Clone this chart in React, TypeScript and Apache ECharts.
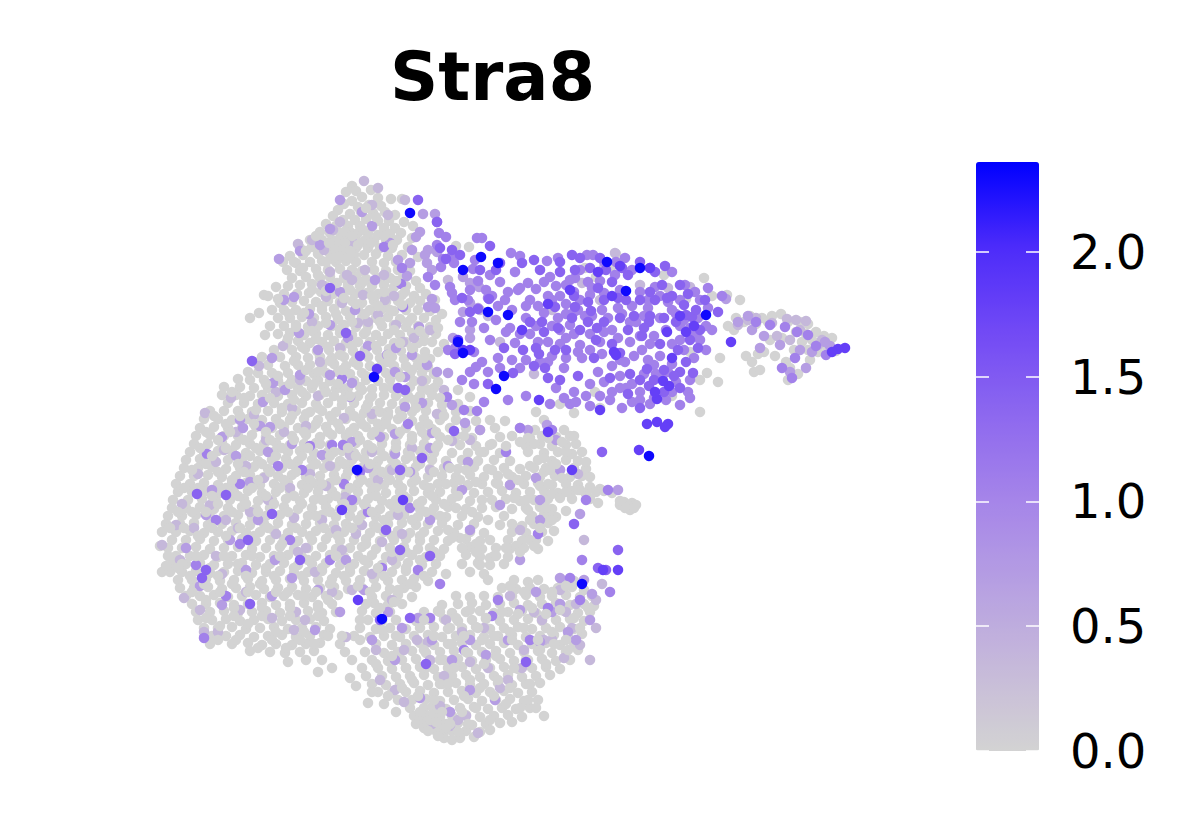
import React, { useEffect, useRef } from "react";
import * as echarts from "echarts";

const geneName = "Stra8";
const colorTicks = [0, 0.5, 1, 1.5, 2];
const colorMax = 2.36;
const colorStops = ["#d3d3d3", "#c6b9da", "#b69fe2", "#a584e9", "#8d68ef", "#7149f5", "#4c2bfa", "#0000ff"];
const expressionLevels = [0, 0.35, 0.7, 1.05, 1.4, 1.8, 2.3];

// Cell positions, flat x,y pairs, one list per expression level
const zeroCellsTop = [
352,186,346,192,356,191,371,190,378,198,352,201,362,197,344,204,358,207,369,205,381,206,391,199,402,199,338,210,350,214,361,212,373,213,385,212,395,215,333,216,343,220,355,220,366,219,378,221,389,221,404,222,326,224,336,226,348,226,360,226,372,227,384,228,395,228,413,226,320,232,330,233,340,233,350,232,358,233,368,234,378,235,390,234,401,233,310,240,322,240,332,240,340,239,348,240,355,240,364,241,374,241,386,240,397,240,412,238,300,248,312,247,326,247,335,246,342,246,349,247,356,248,368,248,380,248,392,248,408,247,456,246,469,247,290,256,303,255,318,254,330,254,338,253,346,253,354,255,364,255,376,254,388,256,402,255,418,257,283,262,296,263,310,262,322,261,336,262,346,261,356,262,372,262,384,263,396,262,
287,270,300,271,316,269,328,270,340,269,352,270,362,271,374,270,386,271,398,270,410,271,292,278,306,277,320,278,330,277,344,278,356,277,366,279,378,278,390,278,402,279,416,281,264,295,276,287,288,286,300,285,312,284,325,286,335,285,348,285,360,286,372,286,384,285,394,287,406,286,420,288,268,296,284,294,297,294,309,293,321,292,333,294,343,292,355,294,367,293,378,294,390,293,402,295,414,296,426,294,259,313,280,303,292,302,304,301,316,302,328,301,340,302,352,301,362,303,374,301,386,302,398,301,410,303,420,301,435,300];
const zeroCellsUpperMid = [
250,318,272,310,284,310,296,310,310,309,322,310,334,309,346,311,358,309,370,310,382,309,394,311,406,310,418,310,430,311,442,314,278,318,290,318,302,317,314,318,326,317,338,319,350,317,362,318,376,318,388,317,400,319,412,318,424,318,436,320,270,326,284,326,296,325,308,327,318,326,332,326,344,325,356,327,368,326,382,326,394,325,406,327,418,326,430,327,265,335,278,334,290,333,304,335,316,334,328,335,340,333,352,335,364,334,376,335,388,334,400,335,412,333,424,335,436,334,287,342,298,341,310,343,322,342,334,341,346,343,358,342,370,342,382,341,394,343,406,342,418,343,432,342,444,344,274,350,292,350,305,349,317,351,329,350,341,349,353,351,365,350,377,350,389,349,401,351,413,350,425,352,254,362,262,357,280,357,296,357,308,358,320,357,332,358,344,357,356,359,368,357,380,358,392,357,404,359,416,358,430,359,
268,365,285,366,298,365,310,365,322,366,334,364,346,366,358,365,370,366,382,365,394,366,406,366,418,365,428,367,258,373,272,373,288,373,302,372,314,374,326,373,338,372,350,374,362,373,386,373,398,372,410,374,422,373,434,374,238,379,250,380,264,380,278,381,292,380,306,381,318,380,330,381,342,388,354,381,366,380,378,381,390,380,414,381,426,380,438,382,224,387,240,387,254,388,268,388,284,387,298,388,312,388,324,387,336,389,348,388,360,387,372,389,384,388,410,387,422,389,434,388,458,390,222,395,236,395,250,396,262,395,278,396,292,395,306,396,320,395,334,396,346,395,358,396,372,396,384,395,396,396,408,396,420,396,432,395,444,396,470,397,
228,403,244,403,258,404,274,403,288,404,302,403,316,404,328,403,342,405,354,403,368,404,380,403,392,404,404,403,416,404,428,403,442,405,458,404,210,411,224,411,238,411,252,412,268,411,282,412,296,411,310,412,322,411,336,412,350,411,364,413,376,411,388,412,400,411,412,412,426,411,442,412,456,412,470,411,204,419,218,419,232,420,248,419,262,420,276,419,290,420,304,419,318,420,332,420,346,419,360,420,372,419,386,420,398,419,412,421,424,419,440,420,456,420,476,421,490,420,505,421,200,428,214,427,228,428,242,428,256,427,272,428,284,427,298,428,312,428,326,427,340,429,354,428,366,427,380,428,392,429,406,428,420,427,432,429,450,428,466,428,480,430,495,428,520,428,535,430,548,428,564,430];
const zeroCellsCentre = [
196,436,210,435,224,436,238,436,252,435,266,437,280,435,292,436,306,435,320,437,332,435,346,436,358,436,372,435,384,437,398,435,412,436,426,436,440,437,456,436,472,438,500,437,512,436,530,438,542,436,556,437,570,436,194,444,208,444,222,443,236,445,250,444,264,444,276,443,290,445,304,444,316,443,330,445,344,444,356,443,368,445,382,444,396,443,410,445,424,444,438,445,460,445,476,446,490,445,526,446,540,444,552,446,566,445,576,444,190,452,204,452,218,451,232,452,246,453,260,451,274,452,288,452,300,451,314,453,328,452,342,451,354,453,366,452,380,451,394,453,408,452,420,451,434,453,452,453,468,453,484,452,500,453,528,452,544,453,558,452,572,454,582,452,186,460,200,459,214,460,228,460,242,459,258,461,272,460,286,459,298,461,312,460,326,459,340,461,352,460,364,459,378,461,392,460,406,459,418,461,432,460,446,461,462,460,478,461,494,460,510,461,538,460,552,461,566,460,578,461,
184,468,198,468,212,467,226,469,240,468,254,467,268,469,282,468,296,467,310,469,324,468,336,467,350,469,362,468,376,467,390,469,402,468,416,467,430,469,444,468,458,469,474,467,488,469,504,468,520,469,546,468,560,470,574,468,586,469,180,476,194,476,208,475,222,477,236,476,250,475,264,477,278,476,292,475,306,477,320,476,334,475,346,477,360,476,374,475,388,477,400,476,414,475,428,477,442,476,456,477,470,475,484,477,498,476,512,477,526,476,540,477,555,476,570,477,582,476,176,484,190,484,204,483,218,485,232,484,246,483,260,485,274,484,288,483,302,485,316,484,330,483,344,485,358,484,370,483,384,485,398,484,412,483,424,485,438,484,454,483,468,485,482,484,496,483,510,485,524,484,538,483,552,485,566,484,578,485,590,487,600,489,
178,492,192,492,206,491,220,493,234,492,248,491,262,493,276,492,290,491,304,493,318,492,332,491,346,493,358,492,372,491,386,493,400,492,414,491,428,493,440,492,456,491,474,493,488,492,502,491,516,493,530,492,544,491,558,493,572,491,586,494,596,492,604,491,612,493,173,500,188,500,202,499,216,501,230,500,244,499,258,501,272,500,286,499,300,501,314,500,328,499,342,501,356,500,368,499,382,501,396,500,408,499,422,501,436,500,452,499,470,501,492,500,506,499,520,501,534,500,548,499,572,499,590,499,598,503,620,505,624,502,628,506,632,503,636,505,630,510,625,508,620,501,634,508];
const zeroCellsLower = [
172,508,186,508,200,507,214,509,228,508,242,507,256,509,270,508,284,507,298,509,312,508,326,507,340,509,352,508,366,507,380,509,394,508,406,507,420,509,434,508,448,507,466,509,482,508,496,507,512,509,526,508,540,507,552,509,566,511,168,516,182,516,196,515,210,517,224,516,238,515,252,517,266,516,280,515,294,517,308,516,322,515,336,517,350,516,362,515,376,517,390,516,404,515,418,517,432,516,446,517,462,516,478,517,504,516,532,516,544,515,556,517,166,524,180,524,194,523,208,525,222,524,236,523,250,525,264,524,278,523,292,525,306,524,320,523,334,525,346,524,360,523,374,525,388,524,402,523,416,525,428,524,442,523,458,525,474,524,500,525,522,526,534,524,548,523,162,532,176,532,190,531,204,533,218,532,232,531,246,533,260,532,274,531,288,533,302,532,316,531,330,533,344,532,356,531,370,533,384,532,398,531,410,533,424,532,438,531,454,533,470,532,484,533,512,532,526,533,542,532,554,531,
160,546,172,540,186,540,200,539,214,541,228,540,242,539,256,541,270,540,284,539,298,541,312,540,326,539,340,541,354,540,366,539,380,541,394,540,406,539,420,541,434,540,448,541,466,539,480,541,508,540,522,541,536,540,548,541,168,548,182,548,196,547,210,549,224,548,238,547,252,549,266,548,280,547,294,549,308,548,322,547,336,549,350,548,362,547,376,549,390,548,404,547,418,549,430,548,444,549,470,547,482,549,496,548,510,549,524,548,538,549,176,556,190,556,204,555,218,557,232,556,246,555,260,557,274,556,288,555,302,557,316,556,330,555,344,557,358,556,372,555,386,557,400,556,412,555,426,557,440,556,466,555,480,557,494,556,508,557,162,572,172,564,186,564,200,563,214,565,228,564,242,563,256,565,270,564,284,563,298,565,312,564,326,563,340,565,354,564,368,563,382,565,396,564,408,563,422,565,436,564,478,563,490,565,504,564,170,572,182,572,196,571,210,573,224,572,238,571,252,573,266,572,280,571,294,573,308,572,322,571,336,573,350,572,364,571,378,573,392,572,406,571,418,573,432,572,446,574,470,572,484,574,
178,580,192,580,206,579,220,581,234,580,248,579,262,581,276,580,290,579,304,581,318,580,332,579,346,581,360,580,374,579,388,581,402,580,414,579,428,581,514,580,528,582,562,580,574,581,180,588,194,588,208,587,222,589,236,588,250,587,264,589,278,588,292,587,306,589,320,588,334,587,348,589,362,588,376,587,390,589,404,588,416,587,502,588,516,589,530,588,544,589,558,588,572,587,584,590,186,596,200,596,214,595,228,597,242,596,256,595,270,597,284,596,298,595,312,597,326,596,338,595,372,597,386,596,398,595,412,597,456,596,470,597,484,596,498,597,512,596,526,595,540,597,552,596,566,595,580,597,592,596,192,604,206,604,220,603,234,605,248,604,262,603,276,605,290,604,304,603,318,605,332,604,374,603,388,605,402,604,442,605,458,604,472,603,486,605,500,604,514,603,528,605,542,604,556,603,570,605,584,604,594,606,
196,612,210,612,224,611,238,613,252,612,266,611,280,613,294,612,308,611,322,613,336,612,362,611,376,613,390,612,424,612,438,611,452,613,466,612,480,611,494,613,508,612,522,611,536,613,550,612,564,611,578,613,590,612,198,620,212,620,226,619,240,621,254,620,268,619,282,621,296,620,310,619,324,621,368,620,382,621,396,620,416,621,430,620,444,619,458,621,472,620,486,619,500,621,514,620,528,619,542,621,556,620,570,619,584,621,204,628,218,628,232,627,246,629,260,628,274,627,288,629,302,628,316,627,330,629,360,628,376,629,390,628,406,629,420,628,434,627,448,629,462,628,476,627,490,629,504,628,518,627,532,629,546,628,560,627,574,629,
212,636,226,636,240,635,254,637,268,636,282,635,296,637,310,636,324,635,354,636,370,637,384,636,400,637,414,636,428,635,442,637,456,636,470,635,484,637,498,636,512,635,526,637,540,636,554,635,568,637,582,634,210,644,232,644,248,643,262,645,276,644,292,645,306,644,320,643,340,644,376,644,392,645,406,644,420,643,434,645,448,644,462,643,476,645,490,644,504,643,518,645,532,644,546,643,560,645,574,643,250,651,270,652,285,653,300,652,314,651,345,652,365,652,384,653,398,652,412,651,426,653,440,652,454,651,468,653,482,652,496,651,510,653,524,652,538,651,552,653,566,652,578,650,288,662,306,660,322,660,352,660,372,660,388,661,402,660,416,659,430,661,444,660,458,659,472,661,486,660,500,659,514,661,528,660,542,659,556,661,570,660,318,672,332,668,362,668,378,668,392,669,406,668,420,667,434,669,448,668,462,667,476,669,490,668,504,667,518,669,532,668,546,667,560,669,
350,678,366,676,382,676,396,677,410,676,424,675,438,677,452,676,466,675,480,677,494,676,508,675,522,677,536,676,550,675,356,686,372,684,386,685,400,684,414,683,428,685,442,684,456,683,470,685,484,684,498,683,512,685,526,684,540,683,368,703,378,692,392,693,406,692,420,691,434,693,448,692,462,691,476,693,490,692,504,691,518,693,532,692,384,704,398,700,412,700,426,699,440,701,454,700,468,699,482,701,496,700,510,699,524,701,538,700,396,712,410,708,424,708,432,707,446,709,460,708,474,707,488,709,502,708,516,709,530,708,544,716,414,716,420,719,428,716,434,714,440,717,452,716,466,715,480,717,494,716,508,715,522,717,416,724,424,724,432,723,438,725,446,724,458,723,472,725,486,724,500,723,512,722,436,731,444,732,452,731,466,731,480,732,490,730,444,738,452,740,460,738,474,737];
const zeroCellsTail = [
585,268,596,277,612,266,616,254,664,275,686,299,704,278,712,296,727,295,740,300,736,318,750,316,762,318,772,316,781,314,788,322,768,322,756,324,744,322,734,330,728,326,800,322,808,324,796,332,806,334,816,332,824,336,832,338,812,340,802,342,794,350,808,350,818,352,826,346,836,351,782,338,770,340,764,352,758,354,746,356,752,362,754,372,760,370,775,356,786,362,790,368,788,380,798,374,810,360,720,358,718,382,707,373,700,380,690,352,672,396,700,412,544,420,600,408,574,413,536,412,560,404,595,392,];
// Second pass over the grey mass, filling what the first pass left open
const zeroCellsOverlay = [
344,232,337,241,345,243,352,236,335,249,343,250,350,251,329,243,358,245,340,256,348,258,333,258,326,262,366,208,376,217,384,236,393,245,363,230,371,243,316,236,306,251,294,262,303,268,318,275,312,290,326,291,337,283,350,290,363,282,372,296,384,292,396,281,405,292,344,298,356,304,365,314,378,306,390,310,402,305,336,314,322,306,304,313,289,314,278,299,296,327,312,331,326,323,340,329,352,322,366,332,380,322,394,330,408,322,420,331,288,338,302,347,316,339,328,347,340,355,352,346,364,354,376,346,388,355,400,343,412,348,424,341,438,328,294,361,306,370,318,372,330,361,342,370,354,362,366,376,378,368,388,362,400,377,412,370,424,358,438,352,
248,372,266,384,278,376,290,384,302,392,314,384,326,392,338,384,350,396,362,390,370,398,380,412,392,388,404,392,414,400,428,390,440,398,232,392,244,398,256,410,270,398,282,408,294,400,306,414,318,408,330,416,342,400,354,416,366,408,378,424,388,416,402,416,416,408,428,424,444,416,214,416,226,424,240,416,254,424,266,432,280,424,292,416,304,432,316,424,328,432,338,424,350,432,362,424,374,432,386,424,400,432,412,440,422,432,436,432,206,432,218,440,230,432,244,440,256,448,270,440,282,448,294,440,308,448,320,444,334,452,348,448,360,440,372,448,384,456,396,448,410,456,424,456,436,448,448,440,464,436,
200,448,212,456,226,448,238,464,250,456,262,464,276,456,290,464,302,456,316,464,330,456,344,464,356,456,370,464,382,472,396,464,408,472,420,464,434,472,450,468,466,470,480,452,492,444,506,446,520,442,534,444,548,438,562,442,192,470,206,464,218,472,232,480,244,472,258,480,270,472,284,480,296,472,310,480,322,484,336,480,348,472,362,480,376,488,390,480,402,488,416,480,430,488,446,484,460,480,476,482,492,470,508,474,518,480,530,466,544,472,556,464,
184,488,198,488,212,496,226,488,238,496,252,488,266,496,280,488,294,496,308,488,322,500,336,496,350,488,364,504,376,496,390,504,404,496,418,504,432,496,444,504,458,496,482,500,498,484,514,498,526,500,540,486,552,494,566,492,580,490,178,512,192,512,206,512,218,504,232,512,246,504,258,512,274,504,288,512,302,504,316,516,330,512,344,504,358,520,372,512,384,520,398,508,412,520,426,512,440,516,456,508,472,512,488,520,512,524,528,510,548,514,
170,528,184,528,198,536,212,528,226,536,240,528,254,536,268,528,282,544,296,528,310,536,324,528,338,536,352,528,366,544,378,528,392,536,406,552,420,536,434,552,448,530,460,538,476,544,490,540,516,546,530,540,168,556,182,564,196,556,210,568,224,556,238,564,252,556,266,568,280,556,294,568,308,560,322,568,336,556,350,568,364,560,378,568,392,552,406,568,420,560,434,552,462,564,476,552,490,558,166,566,178,568,190,576,204,584,218,576,232,584,246,576,260,584,274,576,288,592,302,576,316,592,330,584,344,576,358,586,370,592,384,576,398,590,410,584,424,576,
192,592,206,600,220,592,234,608,248,592,262,608,276,592,290,608,304,596,318,608,328,600,366,604,380,608,394,602,206,618,220,626,234,616,248,624,262,616,276,632,290,616,304,632,318,616,328,636,360,620,382,630,396,636,218,640,236,640,258,648,272,640,286,648,300,640,314,644,342,636,360,640,
424,620,440,612,456,618,470,610,486,618,502,612,518,614,532,608,546,614,560,610,574,618,588,608,434,636,450,628,464,636,478,628,494,636,510,632,524,628,538,640,552,632,566,640,580,628,440,660,424,650,452,644,466,652,482,640,496,656,512,640,526,660,540,650,554,644,568,650,376,664,392,656,406,668,412,680,426,668,440,684,454,668,470,680,484,664,498,680,514,668,530,684,546,664,372,692,388,696,402,688,418,696,434,700,448,684,464,696,480,688,494,696,510,688,528,700,420,712,430,720,424,728,436,722,442,712,450,724,462,712,476,708,490,720,506,704,520,708,536,708,428,731,438,736,446,728,458,732,468,724,
574,436,586,462,566,452,550,470,534,468,544,458,528,438,590,477,578,490,562,478,548,484,560,498,546,508,530,520,540,528,552,520,534,546,520,552,506,548,496,556,480,565,462,548,452,538,488,580,510,586,524,592,538,580,552,592,566,586,];
const faintCells = [
364,181,378,188,405,200,333,230,312,240,352,242,365,270,347,275,363,295,378,315,403,342,259,366,283,346,231,398,205,413,312,322,326,297,342,303,358,323,385,300,396,325,414,338,430,330,437,414,452,441,422,381,372,414,318,396,292,408,344,418,306,426,266,440,284,432,224,450,198,474,182,504,176,525,162,545,180,560,184,598,200,610,204,632,216,556,238,528,294,518,306,548,336,530,345,497,378,480,398,515,326,486,268,500,315,572,332,592,296,612,392,560,356,534,305,620,346,637,376,650,417,640,430,660,380,680,395,690,404,702,440,706,450,726,466,716,478,733,500,688,522,668,544,640,590,660,596,628,596,600,576,604,552,640,564,658,510,596,484,628,470,662,444,676,534,612,578,474,520,530,584,540,560,590,602,584,572,628,748,320,756,318,772,323,787,319,796,320,806,321,818,345,777,336,800,330,822,340,790,340,668,288,690,287,738,325,582,283,604,268,615,253,640,285,488,316,600,300,552,310,480,310,500,342,534,374,444,390,448,280,470,440,
298,244,324,250,340,222,372,205,388,215,330,272,322,285,352,280,384,275,394,296,368,322,340,348,320,362,300,380,276,392,254,415,236,432,216,462,246,466,264,478,290,488,310,474,330,466,350,455,372,452,392,470,412,448,430,470,210,505,194,528,226,520,250,512,276,534,298,552,322,520,342,550,362,525,382,542,402,534,222,574,246,592,272,618,294,630,240,610,218,632,372,574,352,590,392,600,404,650,428,642,446,620,462,632,488,668,508,680,524,650,542,620,566,612,580,645,432,724,458,720,
];
const lightCells = [
279,259,300,251,284,300,294,297,243,428,260,426,270,427,273,383,272,358,299,333,309,314,419,327,387,355,405,377,427,365,437,372,448,373,465,423,422,403,452,405,432,433,380,437,350,397,405,407,395,434,423,214,435,214,420,232,416,237,428,250,425,255,412,250,437,252,432,270,427,263,410,263,407,276,432,299,428,307,435,308,463,277,470,283,479,287,470,303,478,308,463,312,470,330,470,338,453,338,320,245,330,229,340,200,362,212,372,226,390,243,398,260,375,280,340,292,355,310,330,325,318,350,348,338,368,346,396,348,412,355,395,372,352,383,330,375,300,375,285,390,263,402,240,420,222,437,236,456,268,452,292,444,322,455,352,442,368,468,395,454,410,472,430,448,448,466,462,490,250,482,212,490,206,515,230,540,258,520,275,560,186,548,200,586,222,605,246,570,272,596,292,578,318,590,346,560,364,590,388,612,340,612,315,630,372,640,402,628,418,618,432,640,452,660,470,640,486,655,508,640,520,610,536,592,552,612,568,632,560,604,576,640,590,620,592,594,540,642,495,700,470,690,450,712,420,698,395,660,540,520,510,485,468,462,480,430,556,440,560,470,536,478,528,430,547,425,520,560,500,505,540,500,580,514,584,580,560,578,618,490,430,520,470,530,
752,330,764,336,800,350,812,352,780,345,806,368,790,372,760,348,738,322,726,299,748,316,830,346,825,342,
];
const midCells = [
384,247,403,307,401,284,342,379,207,454,343,445,332,445,462,380,477,411,447,397,437,222,439,233,446,237,437,245,443,259,452,256,454,263,441,267,402,268,428,277,435,285,450,287,452,293,473,269,475,260,488,298,456,347,476,367,488,372,360,472,352,500,310,446,278,466,240,484,216,520,204,638,226,596,290,540,330,560,368,512,410,508,382,568,418,570,440,584,464,650,498,600,492,616,530,640,548,608,580,600,570,578,610,592,430,618,240,544,196,565,302,470,344,484,408,424,464,410,506,452,520,428,552,430,586,500,608,490,538,534,582,560,
477,238,482,238,511,253,520,256,547,261,558,258,587,255,593,255,625,258,478,281,490,275,500,282,515,272,528,283,536,289,550,277,566,285,575,278,588,282,600,281,615,275,632,270,650,268,672,272,685,285,695,292,708,288,722,296,455,300,468,300,492,296,505,300,518,290,530,300,548,296,560,296,574,292,590,295,604,293,620,290,640,292,655,287,668,302,680,300,700,300,460,322,472,322,496,320,510,328,526,318,544,313,558,318,570,325,585,316,602,310,618,308,632,306,648,308,660,318,676,314,690,328,712,330,448,350,474,352,515,343,530,334,548,342,566,338,580,345,600,342,612,330,630,322,642,350,654,336,680,340,700,340,470,372,500,368,520,368,548,362,564,368,582,358,598,372,612,366,625,362,640,392,654,365,672,364,688,392,484,402,508,400,526,396,556,388,574,392,590,384,620,388,632,402,650,404,666,400,680,405,690,398,550,404,570,404,590,406,610,400,622,408,
756,322,770,325,785,327,797,332,808,335,816,346,826,355,795,358,782,368,792,378,
520,288,508,292,486,290,470,290,544,282,556,286,570,280,580,270,604,262,616,262,592,288,580,300,566,304,552,300,538,306,526,306,512,310,498,306,484,328,490,340,506,332,520,334,536,326,552,326,566,314,578,310,592,316,608,318,622,314,636,322,648,300,660,296,672,310,684,320,698,318,708,308,640,336,630,342,618,338,604,332,590,334,574,334,560,344,538,342,644,316,666,330,680,326,694,336,706,326,650,344,660,356,672,344,684,350,694,358,706,350,620,360,634,356,648,360,662,378,676,382,690,380,604,382,620,376,632,384,644,374,656,374,668,372,586,396,600,396,612,392,626,388,640,400,654,398,672,392,564,398,576,402,602,354,590,350,578,352,566,358,552,356,540,362,526,360,512,360,498,358,482,362,474,384,560,330,574,312,
];
const strongCells = [
330,288,346,333,252,361,398,388,405,390,454,431,422,458,500,263,490,246,478,309,464,351,455,354,504,348,539,354,536,348,523,350,534,366,545,368,513,373,488,384,555,350,542,322,555,307,575,307,591,311,597,328,620,353,642,336,649,322,686,315,692,317,698,348,693,373,680,372,674,376,647,369,649,386,667,298,
400,470,358,470,226,495,197,494,272,514,248,540,202,578,206,570,386,530,430,556,400,550,300,560,250,604,380,620,410,618,426,664,526,662,618,550,598,568,574,524,602,452,606,570,
446,259,452,250,440,248,360,356,418,200,437,222,460,255,489,299,470,312,480,270,522,263,534,260,540,270,560,262,572,255,580,258,600,258,606,270,622,268,640,262,655,272,665,266,680,285,688,294,
560,272,575,270,590,268,598,288,612,282,626,300,640,300,655,300,672,296,684,305,696,310,705,300,676,322,664,318,650,316,634,316,620,318,604,322,588,322,572,318,558,328,544,332,530,322,
690,340,678,350,660,344,644,328,628,330,612,344,596,340,580,330,566,350,548,378,560,380,578,376,594,358,610,378,630,374,640,380,654,380,664,370,686,362,700,330,718,312,
628,394,640,408,664,392,680,388,496,270,462,298,574,296,588,302,604,300,618,298,650,292,662,285,628,275,
];
const deepCells = [
539,400,669,386,663,381,657,399,657,422,731,342,667,332,600,410,647,424,668,424,639,450,614,352,377,369,358,600,342,510,403,500,572,470,548,432,618,570,603,570,470,350,463,350,458,340,522,330,548,304,598,272,620,266,650,268,686,332,694,326,680,316,672,358,655,392,612,296,570,290,616,355,665,427,
845,348,838,349,832,352,
];
const topCells = [
488,312,508,315,463,270,504,376,481,257,626,291,607,262,496,389,706,315,649,456,410,213,498,263,458,342,463,353,374,377,582,584,382,619,357,470,640,268,
];

// Each entry: a list and the index of its expression level, in drawing order
const drawOrder: [number[], number][] = [
  [zeroCellsTop, 0], [zeroCellsUpperMid, 0], [zeroCellsCentre, 0], [zeroCellsLower, 0], [zeroCellsTail, 0],
  [faintCells, 1], [lightCells, 2], [midCells, 3], [zeroCellsOverlay, 0], [strongCells, 4], [deepCells, 5], [topCells, 6],
];

function buildCells() {
  const out: number[][] = [];
  drawOrder.forEach(([list, level]) => {
    for (let i = 0; i + 1 < list.length; i += 2) out.push([list[i], list[i + 1], expressionLevels[level]]);
  });
  return out;
}

export default function App() {
  const ref = useRef<HTMLDivElement>(null);
  useEffect(() => {
    const chart = echarts.init(ref.current!, undefined, { renderer: "svg" });
    const font = "DejaVu Sans";
    const tick = { show: true, inside: true, length: 13, lineStyle: { color: "#fff", width: 1.5 }, customValues: colorTicks };
    chart.setOption({
      animation: false,
      backgroundColor: "#ffffff",
      title: {
        text: geneName, left: 390, top: 43, padding: 0,
        textStyle: { fontFamily: font, fontWeight: "bold", fontSize: 67, color: "#000" },
      },
      grid: [
        { left: 150, top: 170, width: 710, height: 580 },
        { left: 976, top: 162, width: 63, height: 589 },
      ],
      xAxis: [
        { type: "value", gridIndex: 0, min: 150, max: 860, show: false },
        { type: "value", gridIndex: 1, min: 0, max: 1, show: false },
      ],
      yAxis: [
        { type: "value", gridIndex: 0, min: 170, max: 750, inverse: true, show: false },
        {
          type: "value", gridIndex: 1, min: 0, max: colorMax, position: "right", z: 10,
          splitLine: { show: false }, axisLine: { show: false, onZero: false },
          axisTick: tick,
          axisLabel: { show: true, margin: 31, fontFamily: font, fontSize: 48, color: "#000", padding: [12, 0, 0, 0], customValues: colorTicks, formatter: (v: number) => v.toFixed(1) },
        },
        {
          type: "value", gridIndex: 1, min: 0, max: colorMax, position: "left", z: 10,
          splitLine: { show: false }, axisLine: { show: false, onZero: false }, axisLabel: { show: false },
          axisTick: tick,
        },
      ],
      visualMap: {
        type: "continuous", seriesIndex: 0, dimension: 2, min: 0, max: colorMax,
        left: 976, top: 162, itemWidth: 63, itemHeight: 589, padding: 0,
        calculable: false, showLabel: false, text: ["", ""], hoverLink: false, realtime: false, z: 4,
        inRange: { color: colorStops },
      },
      series: [
        {
          type: "scatter", xAxisIndex: 0, yAxisIndex: 0, symbolSize: 10.5, silent: true, large: false,
          data: buildCells(), itemStyle: { opacity: 1 },
        },
        { type: "scatter", xAxisIndex: 1, yAxisIndex: 1, data: [[0, 0]], symbolSize: 0, silent: true },
        { type: "scatter", xAxisIndex: 1, yAxisIndex: 2, data: [[0, 0]], symbolSize: 0, silent: true },
      ],
    });
    return () => chart.dispose();
  }, []);
  return <div ref={ref} style={{ position: "absolute", left: 0, top: 0, width: 1200, height: 840 }} />;
}
